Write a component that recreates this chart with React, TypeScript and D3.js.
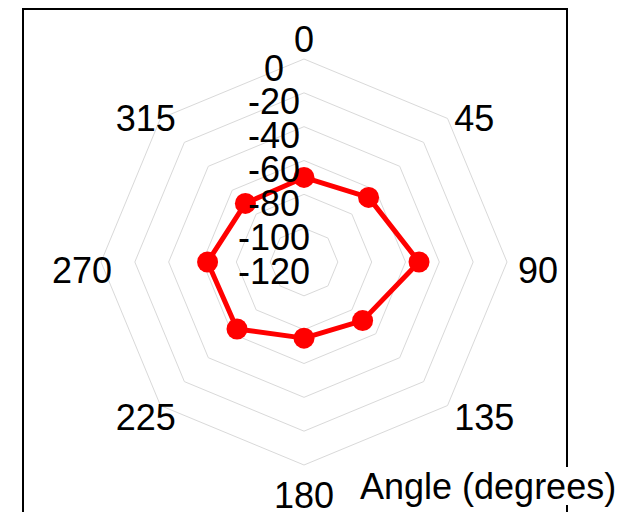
import React from "react";
import * as d3 from "d3";

const angles = [0, 45, 90, 135, 180, 225, 270, 315];
const values = [-70, -66, -52, -71, -75, -64, -63, -71];
const radialTicks = [0, -20, -40, -60, -80, -100, -120];
const axisTitle = "Angle (degrees)";

const W = 639;
const H = 512;
const cx = 304;
const cy = 262;
const R = 203;
const FONT = "'Liberation Sans', Arial, Helvetica, sans-serif";
const FS = 36;

export default function App() {
  const r = d3.scaleLinear().domain([-120, 0]).range([0, R]);
  const toRad = (deg: number) => (deg * Math.PI) / 180;
  const pt = (deg: number, rad: number): [number, number] => [
    cx + rad * Math.sin(toRad(deg)),
    cy - rad * Math.cos(toRad(deg)),
  ];

  const ringPath = (v: number) => {
    const rr = r(v);
    return (
      d3
        .line<number>()
        .x((a) => pt(a, rr)[0])
        .y((a) => pt(a, rr)[1])
        .curve(d3.curveLinearClosed)(angles) || ""
    );
  };

  const dataPath =
    d3
      .line<number>()
      .x((_, i) => pt(angles[i], r(values[i]))[0])
      .y((_, i) => pt(angles[i], r(values[i]))[1])
      .curve(d3.curveLinearClosed)(values) || "";

  const gridTicks = radialTicks.filter((t) => r(t) > 0);

  return (
    <svg
      width={W}
      height={H}
      style={{ position: "absolute", left: 0, top: 0, background: "#fff" }}
      fontFamily={FONT}
    >
      <rect x={0} y={0} width={W} height={H} fill="#fff" />
      {/* frame */}
      <rect x={23} y={9} width={544} height={600} fill="none" stroke="#000" strokeWidth={2} />
      {/* grid */}
      {gridTicks.map((t) => (
        <path key={t} d={ringPath(t)} fill="none" stroke="#d9d9d9" strokeWidth={1} />
      ))}
      {/* data */}
      <path d={dataPath} fill="none" stroke="#ff0000" strokeWidth={5} strokeLinejoin="round" />
      {values.map((v, i) => {
        const [x, y] = pt(angles[i], r(v));
        return <circle key={i} cx={x} cy={y} r={10.5} fill="#ff0000" />;
      })}
      {/* radial labels */}
      {radialTicks.map((t) => (
        <text
          key={t}
          x={cx - 30}
          y={cy - r(t) + 9}
          textAnchor="middle"
          dominantBaseline="central"
          fontSize={FS}
          fill="#000"
        >
          {t}
        </text>
      ))}
      {/* angle labels */}
      {angles.map((a) => {
        const s = Math.sin(toRad(a));
        const c = Math.cos(toRad(a));
        const [px, py] = pt(a, R + 15);
        let anchor: "start" | "end" | "middle" = "middle";
        let x = px;
        if (s > 0.01) {
          anchor = "start";
          x = px - 4;
        } else if (s < -0.01) {
          anchor = "end";
          x = px + 26;
        }
        let k = 8;
        if (Math.abs(s) < 0.01) k = 5 - 10 * c;
        else if (Math.abs(s) < 0.99) k = 6 + 7 * c;
        return (
          <text
            key={a}
            x={x}
            y={py + k}
            textAnchor={anchor}
            dominantBaseline="central"
            fontSize={FS}
            fill="#000"
          >
            {a}
          </text>
        );
      })}
      {/* axis title */}
      <rect x={355} y={467} width={280} height={38} fill="#fff" />
      <text x={360} y={499} fontSize={FS} fill="#000">
        {axisTitle}
      </text>
    </svg>
  );
}
